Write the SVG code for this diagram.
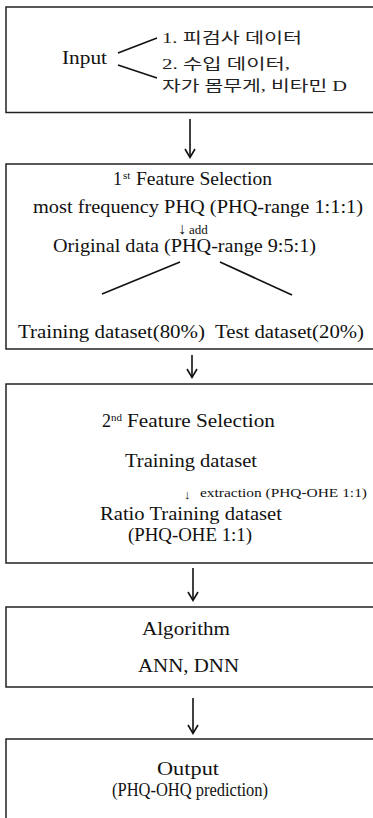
<svg xmlns="http://www.w3.org/2000/svg" width="373" height="818" viewBox="0 0 373 818">
<style>
.box{fill:#fff;stroke:#222;stroke-width:1.5}
.t{font-family:"Liberation Serif","Times New Roman",serif;font-size:18px;fill:#111}
.k{font-family:"Liberation Serif","Noto Sans CJK KR",serif;font-size:15px;fill:#222}
.s{font-family:"Liberation Serif","Times New Roman",serif;font-size:13px;fill:#111}
.sup{font-family:"Liberation Serif","Times New Roman",serif;font-size:11px;fill:#111}
.ln{stroke:#111;stroke-width:1.6;fill:none}
.ah{stroke:#111;stroke-width:1.6;fill:none}
</style>
<rect width="373" height="818" fill="#fff"/>
<g id="node-input">
<rect class="box" x="6" y="7" width="370" height="105.5"/>
<text class="t" x="62" y="64" textLength="45" lengthAdjust="spacingAndGlyphs">Input</text>
<path class="ln" d="M118,53 L157,38 M118,65 L157,78"/>
<text class="k" x="162" y="43" textLength="140" lengthAdjust="spacingAndGlyphs">1. 피검사 데이터</text>
<text class="k" x="162" y="69" textLength="128" lengthAdjust="spacingAndGlyphs">2. 수입 데이터,</text>
<text class="k" x="162" y="91" textLength="185" lengthAdjust="spacingAndGlyphs">자가 몸무게, 비타민 D</text>
</g>
<g id="node-fs1">
<rect class="box" x="6" y="164" width="370" height="185"/>
<text class="t" x="113" y="185">1</text>
<text class="sup" x="123" y="179">st</text>
<text class="t" x="136" y="185" textLength="136" lengthAdjust="spacingAndGlyphs">Feature Selection</text>
<text class="t" x="33" y="213" textLength="330" lengthAdjust="spacingAndGlyphs">most frequency PHQ (PHQ-range 1:1:1)</text>
<text class="s" x="178" y="234"><tspan font-size="16">↓</tspan><tspan dx="3">add</tspan></text>
<text class="t" x="53" y="252" textLength="263" lengthAdjust="spacingAndGlyphs">Original  data (PHQ-range 9:5:1)</text>
<path class="ln" d="M180,262 L102,294 M220,262 L292,295"/>
<text class="t" x="18" y="338" textLength="187" lengthAdjust="spacingAndGlyphs">Training dataset(80%)</text>
<text class="t" x="215" y="338" textLength="149" lengthAdjust="spacingAndGlyphs">Test dataset(20%)</text>
</g>
<g id="node-fs2">
<rect class="box" x="6" y="384" width="370" height="179"/>
<text class="t" x="102" y="427">2</text>
<text class="sup" x="111" y="421">nd</text>
<text class="t" x="127" y="427" textLength="148" lengthAdjust="spacingAndGlyphs">Feature Selection</text>
<text class="t" x="125" y="467" textLength="132" lengthAdjust="spacingAndGlyphs">Training  dataset</text>
<text class="s" x="184" y="499" font-size="16">↓</text>
<text class="s" x="200" y="497" textLength="167" lengthAdjust="spacingAndGlyphs">extraction (PHQ-OHE  1:1)</text>
<text class="t" x="100" y="520" textLength="182" lengthAdjust="spacingAndGlyphs">Ratio Training dataset</text>
<text class="t" x="128" y="541" textLength="124" lengthAdjust="spacingAndGlyphs">(PHQ-OHE 1:1)</text>
</g>
<g id="node-algo">
<rect class="box" x="6" y="607" width="370" height="80"/>
<text class="t" x="142" y="635" textLength="88" lengthAdjust="spacingAndGlyphs">Algorithm</text>
<text class="t" x="138" y="672" textLength="101" lengthAdjust="spacingAndGlyphs">ANN, DNN</text>
</g>
<g id="node-output">
<rect class="box" x="6" y="739" width="370" height="90"/>
<text class="t" x="157" y="775" textLength="62" lengthAdjust="spacingAndGlyphs">Output</text>
<text class="t" x="112" y="796" textLength="156" lengthAdjust="spacingAndGlyphs">(PHQ-OHQ prediction)</text>
</g>
<g id="connectors">
<path class="ln" d="M190,119 V157"/><path class="ah" d="M185,149 L190,157.5 L195,149"/>
<path class="ln" d="M192,355 V377"/><path class="ah" d="M187,369 L192,377.5 L197,369"/>
<path class="ln" d="M193,568 V600"/><path class="ah" d="M188,592 L193,600.5 L198,592"/>
<path class="ln" d="M193,698 V733"/><path class="ah" d="M188,725 L193,733.5 L198,725"/>
</g>
</svg>
